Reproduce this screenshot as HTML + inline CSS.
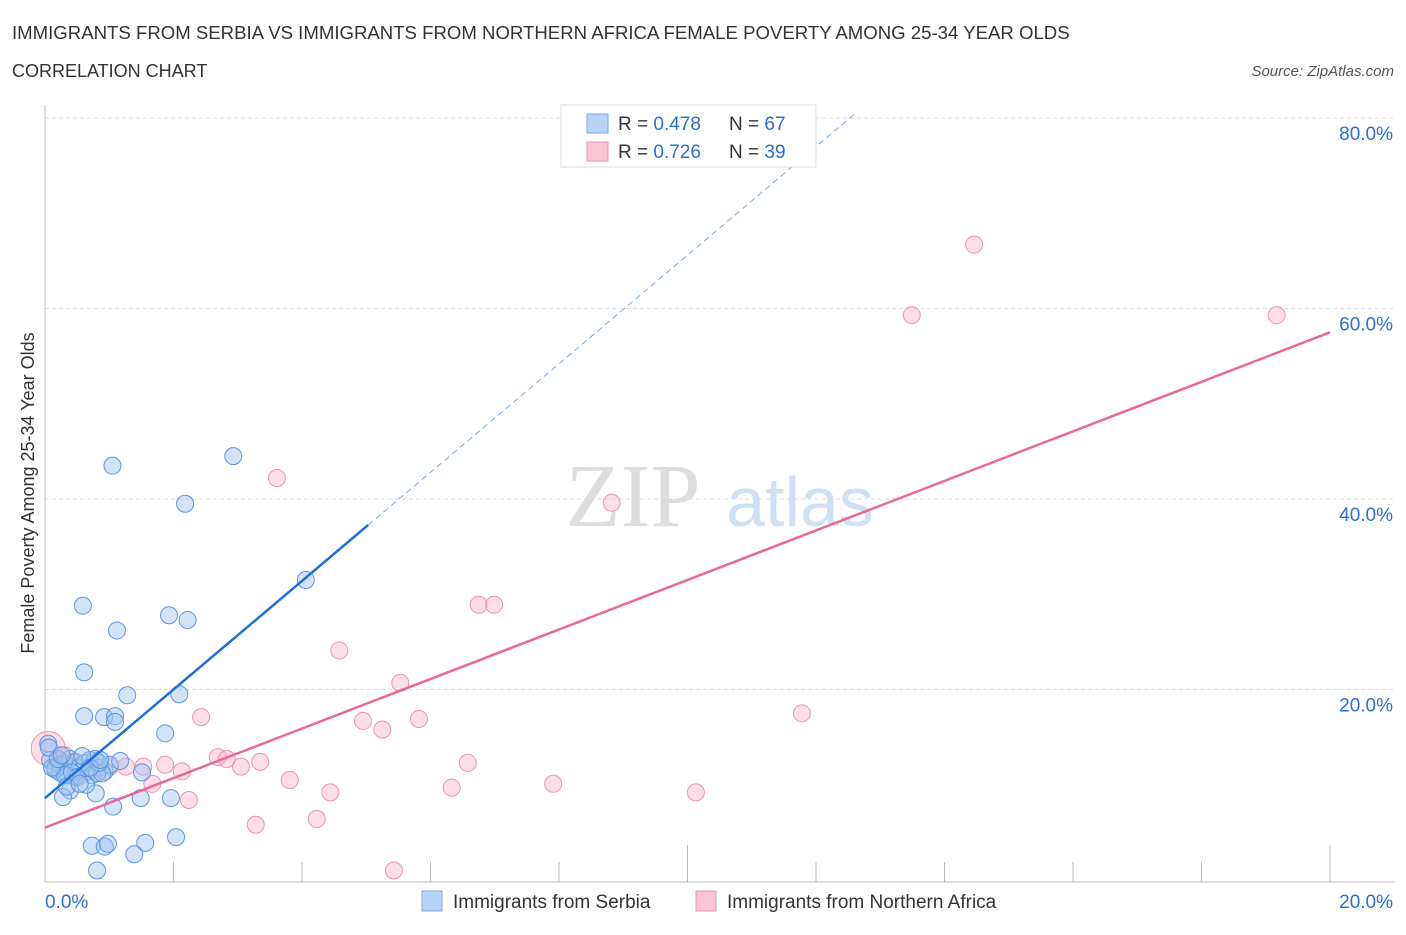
<!DOCTYPE html>
<html><head><meta charset="utf-8"><style>
body{margin:0;background:#fff;font-family:"Liberation Sans",sans-serif}
#c{position:relative;width:1406px;height:930px}
</style></head><body>
<div id="c">
<svg id="s" width="1406" height="930" xmlns="http://www.w3.org/2000/svg">
<text x="12" y="39" font-size="18.6" fill="#333">IMMIGRANTS FROM SERBIA VS IMMIGRANTS FROM NORTHERN AFRICA FEMALE POVERTY AMONG 25-34 YEAR OLDS</text>
<text x="12" y="77" font-size="18" fill="#333">CORRELATION CHART</text>
<text x="1394" y="76" font-size="15" font-style="italic" fill="#555" text-anchor="end">Source: ZipAtlas.com</text>
<text x="633" y="526" font-size="90" font-family="Liberation Serif,serif" fill="#ddd" text-anchor="middle">ZIP</text>
<text x="800" y="526" font-size="70" fill="#cfe0f3" text-anchor="middle">atlas</text>
<text transform="translate(34,493) rotate(-90)" font-size="18" fill="#333" text-anchor="middle">Female Poverty Among 25-34 Year Olds</text>
<g id="grid"></g><g id="marks"></g><g id="lines"></g>
<g>
<rect x="561" y="105" width="255" height="62" fill="#fff" stroke="#ddd"/>
<rect x="587" y="114" width="21" height="19" fill="#b8d3f5" stroke="#7aa9e6"/>
<rect x="587" y="142" width="21" height="19" fill="#f9c6d6" stroke="#eb94b1"/>
<text x="618" y="130" font-size="19" fill="#333">R = <tspan fill="#2a6fd6">0.478</tspan></text>
<text x="729" y="130" font-size="19" fill="#333">N = <tspan fill="#2a6fd6">67</tspan></text>
<text x="618" y="158" font-size="19" fill="#333">R = <tspan fill="#2a6fd6">0.726</tspan></text>
<text x="729" y="158" font-size="19" fill="#333">N = <tspan fill="#2a6fd6">39</tspan></text>
</g>
<g>
<rect x="422" y="891" width="20" height="20" fill="#b8d3f5" stroke="#7aa9e6"/>
<text x="453" y="908" font-size="19" fill="#333">Immigrants from Serbia</text>
<rect x="696" y="891" width="20" height="20" fill="#f9c6d6" stroke="#eb94b1"/>
<text x="727" y="908" font-size="19" fill="#333">Immigrants from Northern Africa</text>
</g>
</svg></div>
<script>
const xTicks=[0,20];
const yTicks=[20,40,60,80];
const serbiaX=[1.05,2.93,2.18,4.06,0.59,1.93,2.22,1.12,0.61,1.28,2.09,0.61,0.92,1.09,1.09,1.87,0.05,0.08,0.16,0.23,0.31,0.39,0.47,0.54,0.62,0.7,0.78,0.86,0.93,1.01,0.23,0.36,0.47,0.67,0.73,0.81,0.89,1.51,0.39,0.79,0.28,1.06,1.49,1.96,0.73,0.93,0.98,1.56,1.39,0.81,2.04,0.06,0.16,0.31,0.42,0.58,0.84,0.11,0.2,0.51,0.64,0.34,0.54,1.17,0.26,0.7,0.86];
const serbiaY=[43.5,44.5,39.5,31.5,28.8,27.8,27.3,26.2,21.8,19.4,19.5,17.2,17.1,17.2,16.6,15.4,14.3,12.6,11.8,12.1,12.3,12.7,12.4,11.9,12.3,12.6,12.7,11.8,11.4,12.1,11.3,11.0,10.8,11.4,11.0,11.2,11.2,11.3,9.4,9.1,8.7,7.7,8.6,8.6,3.6,3.5,3.8,3.9,2.7,1.0,4.5,13.9,11.6,11.0,11.3,13.0,12.3,11.8,12.7,10.8,10.0,9.8,10.1,12.5,13.1,11.8,12.6];
const nafrX=[14.46,13.49,19.17,3.61,8.82,6.75,6.99,4.58,5.53,2.43,4.95,5.82,11.78,5.25,2.69,2.83,3.05,3.35,1.87,2.13,1.26,1.53,3.81,6.58,4.44,6.33,7.91,10.13,2.24,4.23,3.28,5.43,1.67,0.05,0.23,0.47,0.7,1.01,0.31];
const nafrY=[66.7,59.3,59.3,42.2,39.6,28.9,28.9,24.1,20.7,17.1,16.7,16.9,17.5,15.8,12.9,12.7,11.9,12.4,12.1,11.4,11.9,11.9,10.5,12.3,9.2,9.7,10.1,9.2,8.4,6.4,5.8,1.0,10.1,13.8,12.5,12.3,11.9,11.9,13.1];
const serbiaFit=[8.6,5.7];
const nafrFit=[5.5,57.5];
const X=v=>45+v*64.25, Y=v=>880-v*9.525;
const NS='http://www.w3.org/2000/svg';
function mk(t,a,p){const e=document.createElementNS(NS,t);for(const k in a)e.setAttribute(k,a[k]);p.appendChild(e);return e;}
const grid=document.getElementById('grid'),marks=document.getElementById('marks'),lines=document.getElementById('lines');
yTicks.forEach(v=>{
 const l=mk('line',{x1:45,x2:1395,y1:Y(v),y2:Y(v),stroke:'#ddd','stroke-dasharray':'4,3'},grid);
 
 
 const t=mk('text',{x:1393,y:Y(v)+22,'font-size':19,fill:'#2a6fd6','text-anchor':'end'},grid);t.textContent=v.toFixed(1)+'%';
 
 
});
mk('line',{x1:45,x2:45,y1:105,y2:882,stroke:'#bbb'},grid);
mk('line',{x1:45,x2:1395,y1:882,y2:882,stroke:'#bbb'},grid);
for(let i=1;i<=10;i++){const tall=(i==5||i==10);mk('line',{x1:X(i*2),x2:X(i*2),y1:tall?845:862,y2:882,stroke:'#bbb'},grid);}
xTicks.forEach((v,i)=>{const t=mk('text',{x:i?1393:45,y:908,'font-size':19,fill:'#2a6fd6','text-anchor':i?'end':'start'},grid);t.textContent=v.toFixed(1)+'%';
 
 });
nafrX.forEach((x,i)=>{const c=mk('circle',{cx:X(x),cy:Y(nafrY[i]),r:i==33?17:8.5,fill:'rgba(249,180,205,0.45)',stroke:'#eb94b1','stroke-width':1},marks);
 
 });
serbiaX.forEach((x,i)=>{const c=mk('circle',{cx:X(x),cy:Y(serbiaY[i]),r:8.5,fill:'rgba(160,195,240,0.45)',stroke:'#5b95e0','stroke-width':1},marks);
 
 });
const sf=x=>serbiaFit[0]+serbiaFit[1]*x;
let l1=mk('line',{x1:X(0),y1:Y(sf(0)),x2:X(5.03),y2:Y(sf(5.03)),stroke:'#1f6fd8','stroke-width':2.5},lines);


let l2=mk('line',{x1:X(5.03),y1:Y(sf(5.03)),x2:X(12.6),y2:Y(sf(12.6)),stroke:'#7aa9e6','stroke-width':1,'stroke-dasharray':'6,4'},lines);


const nf=x=>nafrFit[0]+(nafrFit[1]-nafrFit[0])/20*x;
let l3=mk('line',{x1:X(0),y1:Y(nf(0)),x2:X(20),y2:Y(nf(20)),stroke:'#e8689a','stroke-width':2.5},lines);


</script>
</body></html>
